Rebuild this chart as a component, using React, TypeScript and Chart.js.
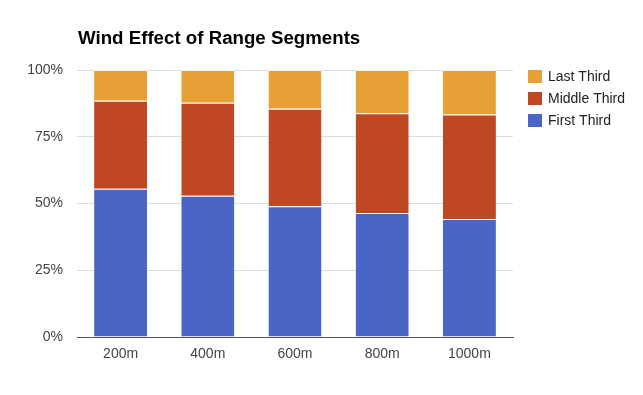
import React, { useEffect, useRef } from "react";
import { Chart, registerables } from "chart.js";

Chart.register(...registerables);

const TITLE = "Wind Effect of Range Segments";
const categories = ["200m", "400m", "600m", "800m", "1000m"];
const firstThird = [55.5, 52.9, 49.0, 46.4, 44.2];
const middleThird = [33.0, 34.8, 36.5, 37.4, 39.1];
const lastThird = [11.5, 12.3, 14.5, 16.2, 16.7];
const yTicks = [0, 25, 50, 75, 100];

const seriesNames = ["First Third", "Middle Third", "Last Third"];
const seriesColors = ["#4a65c6", "#bf4722", "#e7a036"];

const FONT = '"Liberation Sans", Arial, sans-serif';

const titleLegendPlugin = {
  id: "titleLegend",
  afterDraw(chart: any) {
    const ctx = chart.ctx;
    ctx.save();
    ctx.font = `bold 18.7px ${FONT}`;
    ctx.fillStyle = "#000000";
    ctx.textBaseline = "alphabetic";
    ctx.textAlign = "left";
    ctx.fillText(TITLE, 78, 44);

    const ds = chart.data.datasets;
    const left = chart.chartArea.right + 15;
    const top = chart.chartArea.top;
    ctx.font = `14px ${FONT}`;
    ctx.textBaseline = "middle";
    let k = 0;
    for (let i = ds.length - 1; i >= 0; i--) {
      const y = top + k * 22;
      ctx.fillStyle = ds[i].backgroundColor;
      ctx.fillRect(left, y, 14, 13);
      ctx.fillStyle = "#222222";
      ctx.fillText(ds[i].label, left + 20, y + 7);
      k++;
    }
    ctx.restore();
  },
};

export default function App() {
  const ref = useRef<HTMLCanvasElement | null>(null);

  useEffect(() => {
    if (!ref.current) return;
    const series = [firstThird, middleThird, lastThird];
    const chart = new Chart(ref.current, {
      type: "bar",
      data: {
        labels: categories,
        datasets: series.map((d, i) => ({
          label: seriesNames[i],
          data: d,
          backgroundColor: seriesColors[i],
          borderColor: "rgba(255,255,255,0.75)",
          borderWidth: { top: 1, left: 0, right: 0, bottom: 0 },
          borderSkipped: false,
          barPercentage: 0.608,
          categoryPercentage: 1,
        })),
      },
      options: {
        responsive: false,
        animation: false,
        layout: { padding: { left: 0, top: 70, right: 130, bottom: 0 } },
        plugins: {
          legend: { display: false },
          title: { display: false },
          tooltip: { enabled: false },
        },
        scales: {
          x: {
            stacked: true,
            grid: { display: false, drawTicks: false },
            border: { display: true, color: "#555555", width: 1 },
            ticks: {
              padding: 9,
              color: "#444444",
              font: { family: FONT, size: 14 },
            },
            afterFit(scale: any) {
              scale.height = 58;
            },
          },
          y: {
            stacked: true,
            min: 0,
            max: 100,
            afterBuildTicks(scale: any) {
              scale.ticks = yTicks.map((v) => ({ value: v }));
            },
            grid: { color: "#dddddd", drawTicks: false, lineWidth: 1 },
            border: { display: false },
            ticks: {
              padding: 14,
              color: "#444444",
              font: { family: FONT, size: 14 },
              callback: (v: any) => `${v}%`,
            },
            afterFit(scale: any) {
              scale.width = 77;
            },
          },
        },
      },
      plugins: [titleLegendPlugin],
    });
    return () => chart.destroy();
  }, []);

  return (
    <div style={{ position: "fixed", left: 0, top: 0, width: 643, height: 395, background: "#fff" }}>
      <canvas ref={ref} width={643} height={395} style={{ width: 643, height: 395 }} />
    </div>
  );
}
